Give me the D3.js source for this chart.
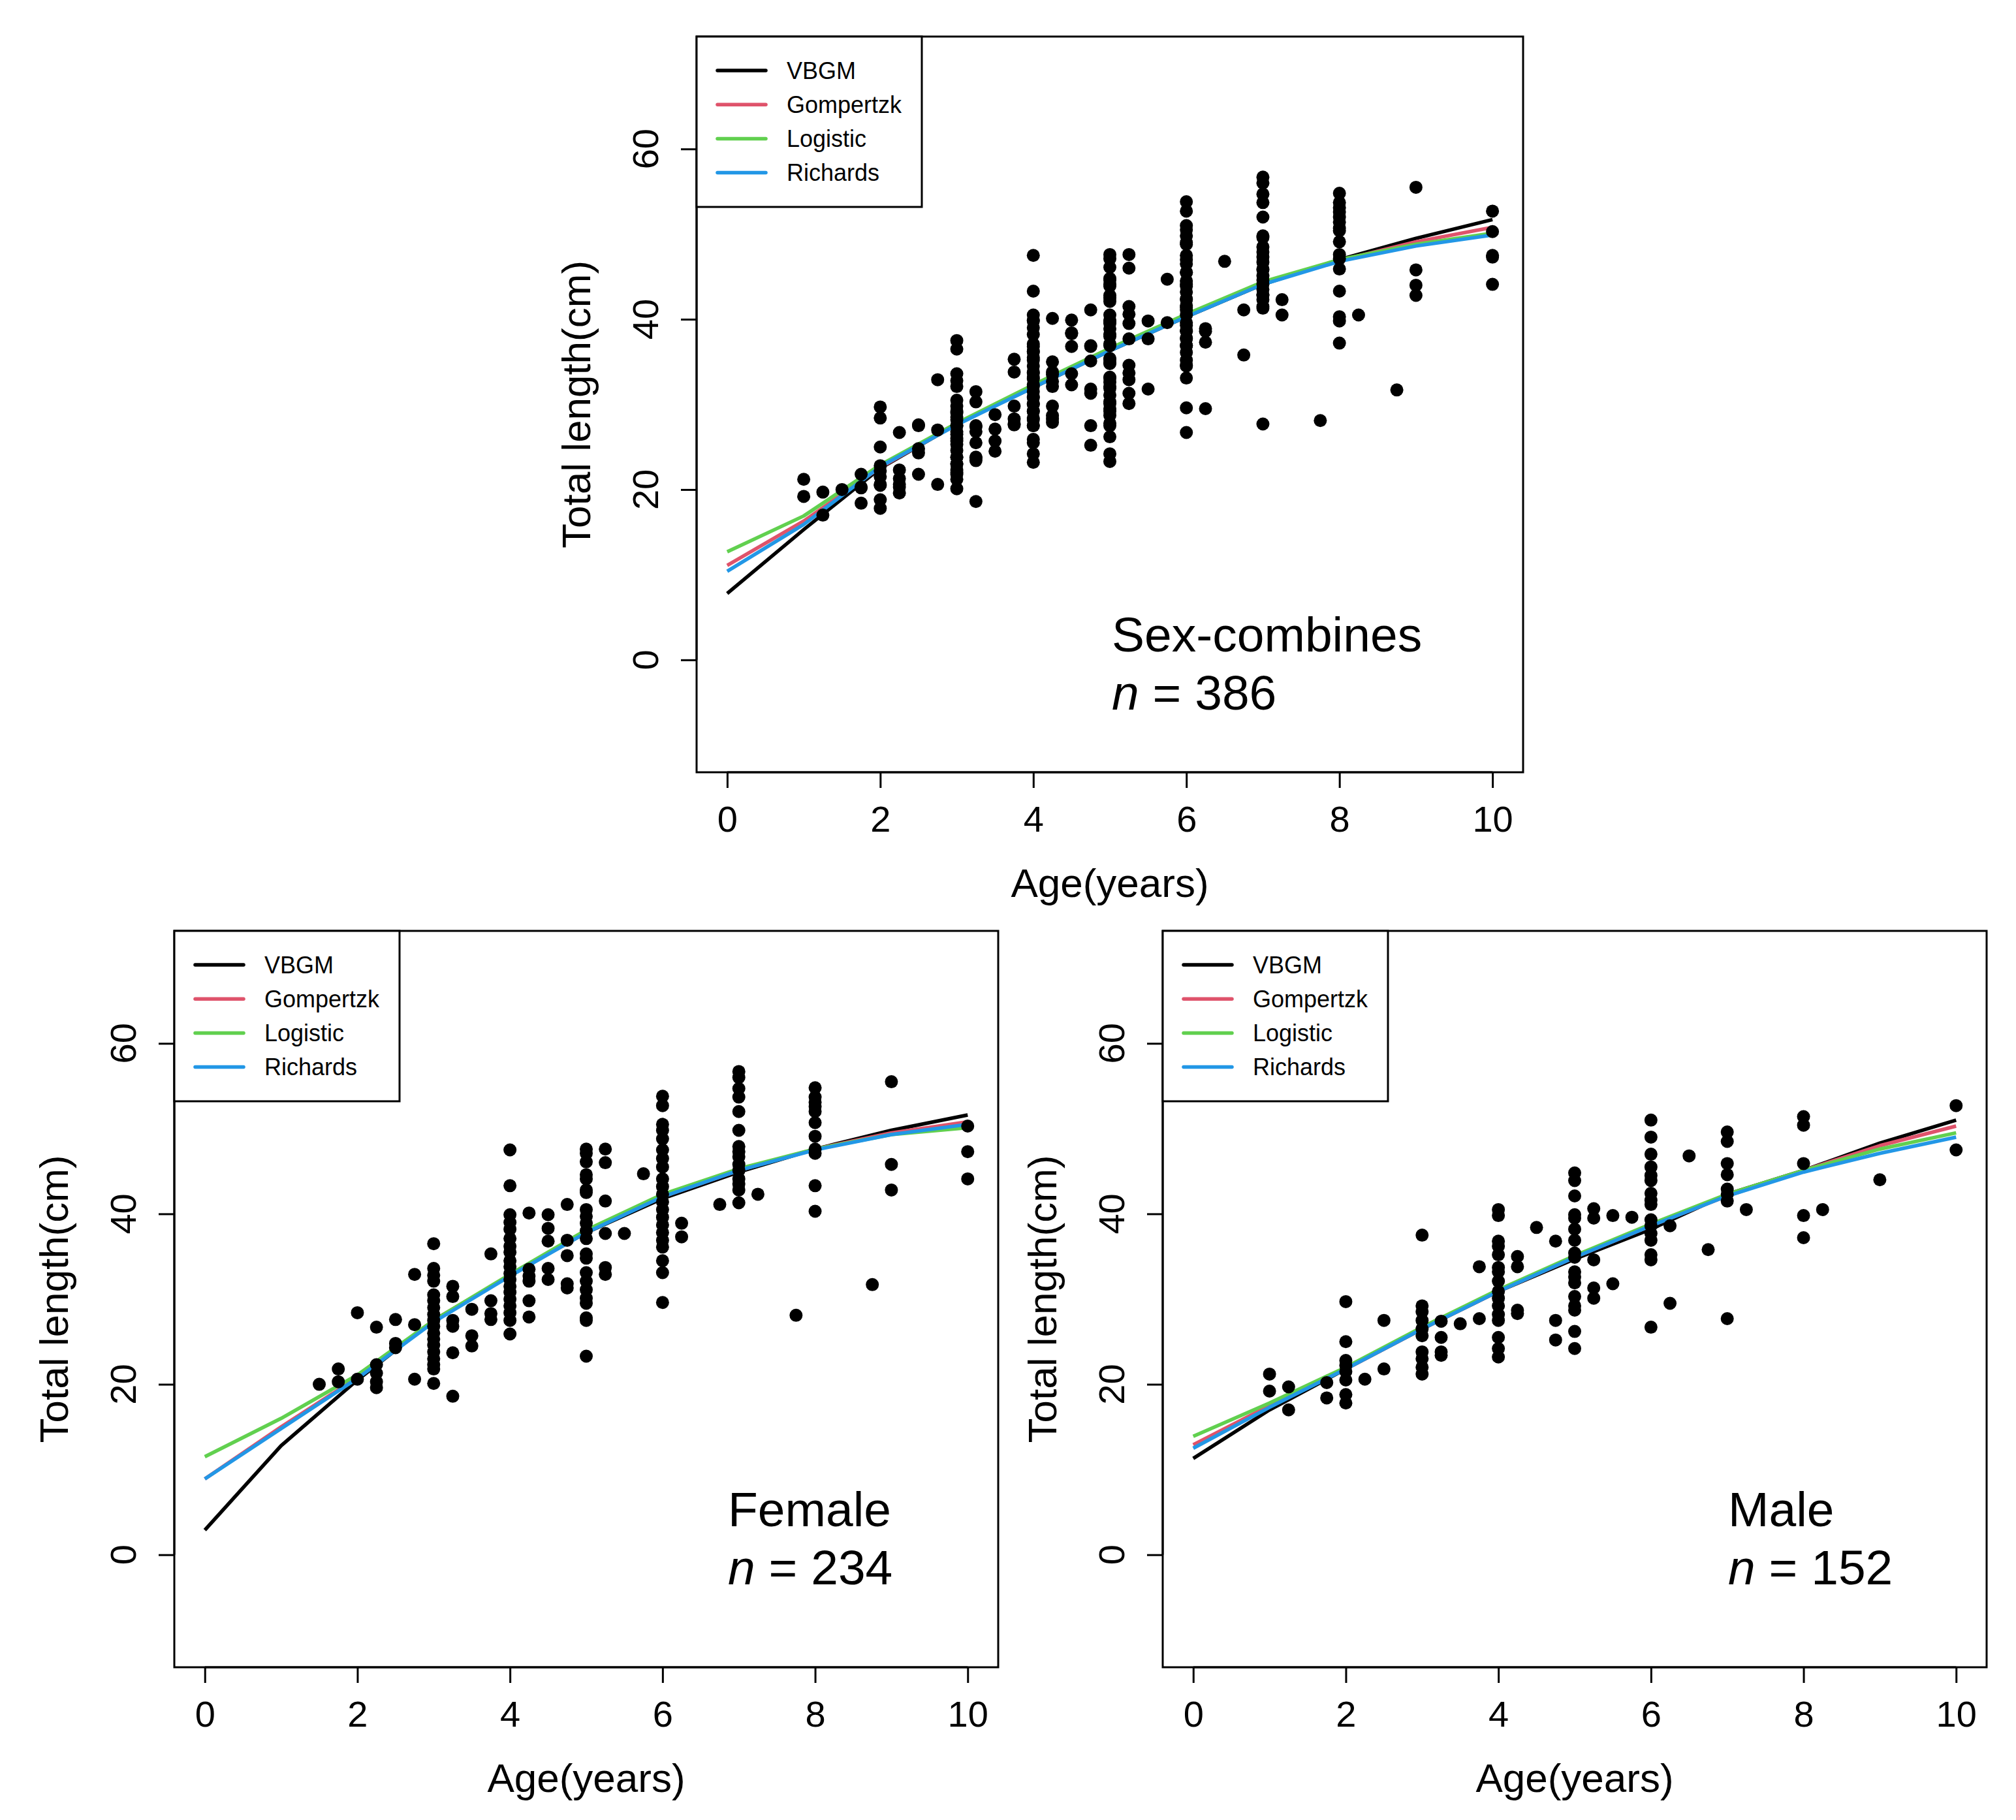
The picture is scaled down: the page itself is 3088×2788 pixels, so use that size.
<!DOCTYPE html>
<html><head><meta charset="utf-8">
<script src="https://cdn.jsdelivr.net/npm/d3@7"></script>
<style>body{margin:0;background:#fff} svg{display:block} text{font-family:"Liberation Sans",Arial,sans-serif;fill:#000}</style>
</head><body><svg id="chart" width="3088" height="2788"></svg>
<script>
const xTicks=[0,2,4,6,8,10];
const yTicks=[0,20,40,60];
const modelNames=["VBGM","Gompertzk","Logistic","Richards"];
const modelColors=["#000000","#DF536B","#61D04F","#2297E6"];
const curveAges=[0,1,2,3,4,5,6,7,8,9,10];

const combinedVBGM=[7.8,15.3,22.5,27.7,32.0,36.3,40.3,44.1,47.0,49.5,51.7];
const combinedGompertz=[11.1,16.3,22.6,27.7,32.1,36.4,40.4,44.2,46.9,49.1,50.8];
const combinedLogistic=[12.7,16.9,22.9,27.8,32.3,36.6,40.6,44.4,47.0,48.8,50.1];
const combinedRichards=[10.4,15.9,22.7,27.6,32.0,36.3,40.3,44.1,46.8,48.6,49.9];

const femaleVBGM=[2.9,12.8,20.5,27.5,32.8,37.8,41.8,44.9,47.6,49.8,51.6];
const femaleGompertz=[8.9,15.0,20.8,27.5,32.8,37.9,42.0,45.1,47.6,49.5,50.8];
const femaleLogistic=[11.5,16.0,21.1,27.5,32.9,38.1,42.3,45.3,47.6,49.3,50.1];
const femaleRichards=[8.9,14.8,20.7,27.3,32.7,37.8,42.0,45.1,47.5,49.3,50.5];

const maleVBGM=[11.3,17.0,21.8,26.5,30.9,34.7,38.2,42.3,45.1,48.3,51.0];
const maleGompertz=[12.9,17.5,21.8,26.5,30.9,34.9,38.6,42.1,45.1,48.0,50.3];
const maleLogistic=[13.9,17.8,22.0,26.7,31.1,35.1,38.8,42.3,45.1,47.6,49.5];
const maleRichards=[12.5,17.3,21.8,26.5,30.9,34.9,38.6,42.1,44.9,47.1,49.0];

// observed total length (cm) grouped by age (years)
const femaleGroups=[
 [1.5,[20.0]],
 [1.75,[21.8,20.3]],
 [2,[28.4,20.6]],
 [2.25,[26.7,22.3,21.3,20.3,19.6]],
 [2.5,[27.6,24.8,24.3]],
 [2.75,[32.9,27.0,20.6]],
 [3,[36.5,33.6,32.8,32.1,30.5,29.8,29.0,28.2,27.5,26.8,26.0,25.3,24.6,23.8,23.0,22.3,21.8,20.1]],
 [3.25,[31.5,30.3,27.5,26.8,23.7,18.6]],
 [3.5,[28.8,25.7,24.5]],
 [3.75,[35.3,29.8,28.3,27.6]],
 [4,[47.5,43.3,39.9,39.0,38.2,37.1,36.2,35.5,34.5,33.8,33.0,32.3,31.5,30.8,30.0,29.2,28.4,27.5,25.9]],
 [4.25,[40.1,33.5,32.7,32.1,29.8,27.9]],
 [4.5,[39.9,38.3,36.8,33.6,32.3]],
 [4.75,[41.1,36.9,35.1,31.8,31.3]],
 [5,[47.6,47.1,46.1,44.6,44.1,42.8,42.5,40.5,39.7,38.9,38.0,37.1,35.3,34.8,33.1,32.1,31.1,30.1,29.5,27.8,27.5,23.3]],
 [5.25,[47.6,46.0,41.5,37.7,33.7,32.9]],
 [5.5,[37.7]],
 [5.75,[44.7]],
 [6,[53.8,52.7,50.5,49.8,48.8,47.5,46.5,45.5,44.1,43.2,42.3,41.4,40.5,39.6,38.7,37.8,36.9,36.1,34.5,33.1,29.6]],
 [6.25,[38.9,37.3]],
 [6.75,[41.1]],
 [7,[56.7,56.0,54.7,53.7,52.0,49.8,47.9,47.3,46.7,45.8,45.1,44.1,43.5,42.8,41.3]],
 [7.25,[42.3]],
 [7.75,[28.1]],
 [8,[54.8,53.7,53.1,52.6,52.0,50.7,49.1,47.6,47.1,43.3,40.3]],
 [8.75,[31.7]],
 [9,[55.5,45.8,42.8]],
 [10,[50.3,47.3,44.1]]
];
const maleGroups=[
 [1,[21.2,19.2]],
 [1.25,[19.7,17.0]],
 [1.75,[20.2,18.4]],
 [2,[29.7,25.0,22.8,22.2,21.5,20.5,18.8,17.8]],
 [2.25,[20.6]],
 [2.5,[27.5,21.8]],
 [3,[37.5,29.2,28.5,27.5,26.5,25.7,23.8,23.0,22.0,21.2]],
 [3.25,[27.4,25.5,23.8,23.4]],
 [3.5,[27.1]],
 [3.75,[33.8,27.7]],
 [4,[40.5,39.8,36.8,36.2,35.2,33.7,33.2,32.1,30.9,30.1,29.2,28.2,27.5,25.5,24.2,23.2]],
 [4.25,[35.0,33.8,28.7,28.3]],
 [4.5,[38.4]],
 [4.75,[36.8,27.5,25.2]],
 [5,[44.8,43.9,42.1,39.9,39.5,38.2,36.9,35.4,34.9,33.2,32.6,31.9,30.3,29.2,28.7,26.2,24.2]],
 [5.25,[40.6,39.5,34.6,31.3,30.1]],
 [5.5,[39.8,31.8]],
 [5.75,[39.6]],
 [6,[51.0,49.0,47.0,45.5,44.5,43.9,42.4,41.6,41.1,39.3,38.6,37.7,36.9,35.2,34.6,26.7]],
 [6.25,[38.6,29.5]],
 [6.5,[46.8]],
 [6.75,[35.8]],
 [7,[49.6,48.5,45.9,44.6,42.9,42.3,41.5,27.7]],
 [7.25,[40.5]],
 [8,[51.4,50.4,45.9,39.8,37.2]],
 [8.25,[40.5]],
 [9,[44.0]],
 [10,[52.7,47.5]]
];

const flatten=g=>g.flatMap(([a,vals])=>vals.map(v=>({age:a,len:v})));
const femalePts=flatten(femaleGroups);
const malePts=flatten(maleGroups);
const combinedPts=femalePts.concat(malePts);

const panels=[
 {left:1067,top:56,w:1266,h:1127,pts:combinedPts,
  curves:[combinedVBGM,combinedGompertz,combinedLogistic,combinedRichards],
  title:"Sex-combines",n:"386",tx:636,ty:942},
 {left:267,top:1426,w:1262,h:1128,pts:femalePts,
  curves:[femaleVBGM,femaleGompertz,femaleLogistic,femaleRichards],
  title:"Female",n:"234",tx:848,ty:912},
 {left:1781,top:1426,w:1262,h:1128,pts:malePts,
  curves:[maleVBGM,maleGompertz,maleLogistic,maleRichards],
  title:"Male",n:"152",tx:866,ty:912}
];

const svg=d3.select("#chart");
panels.forEach(p=>{
  const x=d3.scaleLinear().domain([-0.4,10.4]).range([p.left,p.left+p.w]);
  const y=d3.scaleLinear().domain([-13.2,73.2]).range([p.top+p.h,p.top]);
  const g=svg.append("g");

  // curves
  const line=d3.line().x((d,i)=>x(curveAges[i])).y(d=>y(d)).curve(d3.curveLinear);
  p.curves.forEach((c,i)=>{
    g.append("path").attr("d",line(c)).attr("fill","none")
     .attr("stroke",modelColors[i]).attr("stroke-width",5.5).attr("stroke-linejoin","round");
  });

  // points
  g.selectAll("circle.pt").data(p.pts).enter().append("circle")
   .attr("cx",d=>x(d.age)).attr("cy",d=>y(d.len)).attr("r",10).attr("fill","#000");

  // box
  g.append("rect").attr("x",p.left).attr("y",p.top).attr("width",p.w).attr("height",p.h)
   .attr("fill","none").attr("stroke","#000").attr("stroke-width",3);

  // x axis
  const xa=g.append("g").attr("transform",`translate(0,${p.top+p.h})`)
    .call(d3.axisBottom(x).tickValues(xTicks).tickSize(24).tickPadding(27).tickFormat(d3.format("d")));
  xa.select(".domain").attr("d",`M${x(0)},0H${x(10)}`).attr("stroke-width",3);
  xa.selectAll(".tick line").attr("stroke-width",3);
  xa.selectAll(".tick text").attr("font-size",56).attr("font-family","Liberation Sans, Arial, sans-serif");

  // y axis
  const ya=g.append("g").attr("transform",`translate(${p.left},0)`)
    .call(d3.axisLeft(y).tickValues(yTicks).tickSize(24).tickFormat(d3.format("d")));
  ya.select(".domain").attr("d",`M0,${y(0)}V${y(60)}`).attr("stroke-width",3);
  ya.selectAll(".tick line").attr("stroke-width",3);
  ya.selectAll(".tick text").remove();
  yTicks.forEach(v=>{
    g.append("text").attr("transform",`translate(${p.left-59},${y(v)}) rotate(-90)`)
     .attr("text-anchor","middle").attr("font-size",56).text(v);
  });

  // axis titles
  g.append("text").attr("x",p.left+p.w/2).attr("y",p.top+p.h+191)
   .attr("text-anchor","middle").attr("font-size",62).text("Age(years)");
  g.append("text").attr("transform",`translate(${p.left-163},${p.top+p.h/2}) rotate(-90)`)
   .attr("text-anchor","middle").attr("font-size",62).text("Total length(cm)");

  // legend
  const lg=g.append("g").attr("transform",`translate(${p.left},${p.top})`);
  lg.append("rect").attr("width",345).attr("height",261).attr("fill","#fff")
    .attr("stroke","#000").attr("stroke-width",3);
  modelNames.forEach((m,i)=>{
    const yy=52+i*52.2;
    lg.append("line").attr("x1",32).attr("x2",106).attr("y1",yy).attr("y2",yy)
      .attr("stroke",modelColors[i]).attr("stroke-width",5.5).attr("stroke-linecap","round");
    lg.append("text").attr("x",138).attr("y",yy).attr("dy","0.35em")
      .attr("font-size",36).text(m);
  });

  // annotation
  g.append("text").attr("x",p.left+p.tx).attr("y",p.top+p.ty).attr("font-size",75).text(p.title);
  const t2=g.append("text").attr("x",p.left+p.tx).attr("y",p.top+p.ty+89).attr("font-size",75);
  t2.append("tspan").attr("font-style","italic").text("n");
  t2.append("tspan").text(" = "+p.n);
});
</script></body></html>
